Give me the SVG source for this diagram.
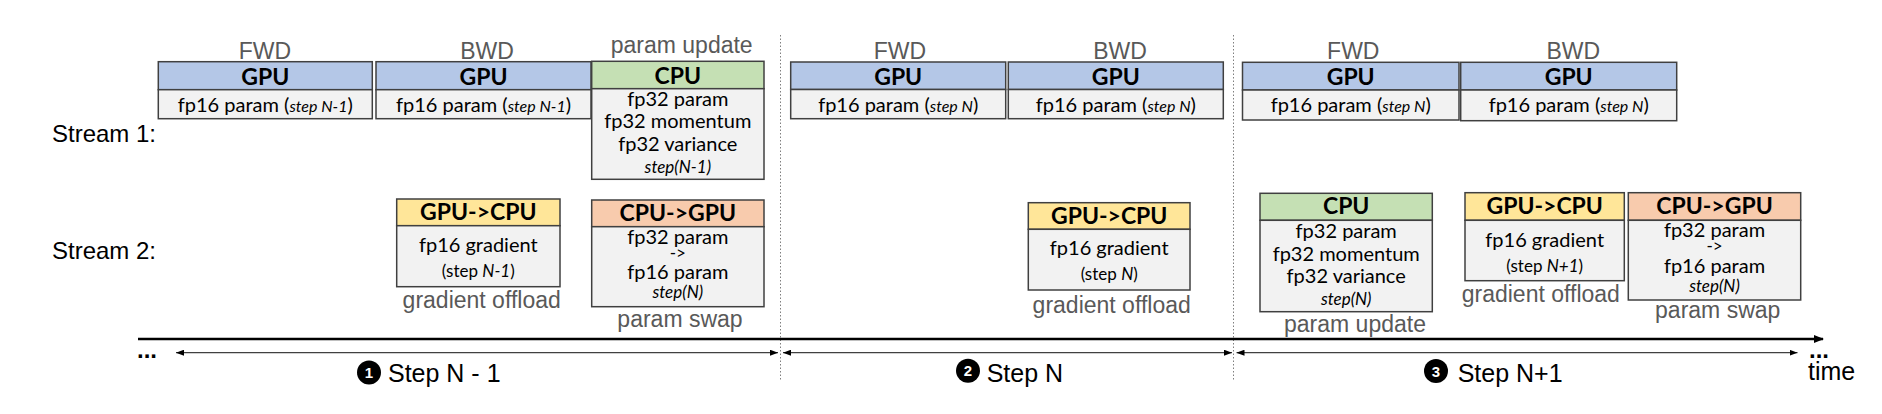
<svg xmlns="http://www.w3.org/2000/svg" width="1882" height="414" viewBox="0 0 1882 414">
<style>
.bx{stroke:#404040;stroke-width:1.5}
.gpu{fill:#b4c7e7}.cpu{fill:#c5e0b4}.g2c{fill:#ffe699}.c2g{fill:#f8cbad}.bd{fill:#f2f2f2}
.h{font-family:Lato,"Liberation Sans",sans-serif;font-weight:700;font-size:23px;text-anchor:middle;fill:#000}
.t{font-family:Lato,"Liberation Sans",sans-serif;font-size:20px;text-anchor:middle;fill:#000}
.s{font-family:Lato,"Liberation Sans",sans-serif;font-size:17px;text-anchor:middle;fill:#000}
.i{font-style:italic}
.lbl{font-family:"Liberation Sans",Arial,sans-serif;font-size:23px;fill:#595959;text-anchor:middle}
.ax{font-family:"Liberation Sans",Arial,sans-serif;font-size:24px;fill:#000}
.st{font-family:"Liberation Sans",Arial,sans-serif;font-size:25px;fill:#000}
.num{font-family:"Liberation Sans",Arial,sans-serif;font-size:15px;font-weight:700;fill:#fff;text-anchor:middle}
.dot{stroke:#7f7f7f;stroke-width:1;stroke-dasharray:1.5 2;fill:none}
.sa{stroke:#404040;stroke-width:1.2;fill:none}
</style>
<defs>
<marker id="ah" viewBox="0 0 8 6" refX="8" refY="3" markerWidth="8" markerHeight="6" markerUnits="userSpaceOnUse" orient="auto-start-reverse"><path d="M0,0L8,3L0,6z" fill="#000"/></marker>
<marker id="ta" viewBox="0 0 10 8" refX="9" refY="4" markerWidth="10" markerHeight="8" markerUnits="userSpaceOnUse" orient="auto"><path d="M0,0L10,4L0,8z" fill="#000"/></marker>
</defs>
<rect width="1882" height="414" fill="#fff"/>

<g id="row-labels">
<text class="ax" x="52" y="142">Stream 1:</text>
<text class="ax" x="52" y="259">Stream 2:</text>
</g>

<g id="connectors">
<line class="dot" x1="780.5" y1="35" x2="780.5" y2="381"/>
<line class="dot" x1="1233.5" y1="35" x2="1233.5" y2="381"/>
<line x1="138" y1="339" x2="1823" y2="339" stroke="#000" stroke-width="2.5" marker-end="url(#ta)"/>
<line class="sa" x1="176" y1="352.7" x2="778" y2="352.7" marker-start="url(#ah)" marker-end="url(#ah)"/>
<line class="sa" x1="783" y1="352.7" x2="1232" y2="352.7" marker-start="url(#ah)" marker-end="url(#ah)"/>
<line class="sa" x1="1236.5" y1="352.7" x2="1797.5" y2="352.7" marker-start="url(#ah)" marker-end="url(#ah)"/>
</g>

<!-- Stream 1 -->
<g id="s1-fwd-n1">
<text class="lbl" x="265" y="59">FWD</text>
<rect class="bx gpu" x="158.3" y="61.7" width="214" height="28"/>
<rect class="bx bd" x="158.3" y="89.7" width="214" height="29"/>
<text class="h" x="265.3" y="85">GPU</text>
<text class="t" x="265.3" y="112">fp16 param (<tspan class="i" font-size="16">step N-1</tspan>)</text>
</g>
<g id="s1-bwd-n1">
<text class="lbl" x="487" y="59">BWD</text>
<rect class="bx gpu" x="376" y="61.7" width="215" height="28"/>
<rect class="bx bd" x="376" y="89.7" width="215" height="29"/>
<text class="h" x="483.5" y="85">GPU</text>
<text class="t" x="483.5" y="112">fp16 param (<tspan class="i" font-size="16">step N-1</tspan>)</text>
</g>
<g id="s1-cpu-n1">
<text class="lbl" x="681.7" y="53">param update</text>
<rect class="bx cpu" x="591.7" y="61.3" width="172.3" height="27.4"/>
<rect class="bx bd" x="591.7" y="88.7" width="172.3" height="90.6"/>
<text class="h" x="677.8" y="84">CPU</text>
<text class="t" x="677.8" y="106">fp32 param</text>
<text class="t" x="677.8" y="128">fp32 momentum</text>
<text class="t" x="677.8" y="150.7">fp32 variance</text>
<text class="s i" x="677.8" y="173">step(N-1)</text>
</g>
<g id="s1-fwd-n">
<text class="lbl" x="900" y="59">FWD</text>
<rect class="bx gpu" x="790.7" y="62" width="215" height="27.5"/>
<rect class="bx bd" x="790.7" y="89.5" width="215" height="29.2"/>
<text class="h" x="898.2" y="85">GPU</text>
<text class="t" x="898.2" y="112">fp16 param (<tspan class="i" font-size="16">step N</tspan>)</text>
</g>
<g id="s1-bwd-n">
<text class="lbl" x="1120" y="59">BWD</text>
<rect class="bx gpu" x="1008.3" y="62" width="215" height="27.5"/>
<rect class="bx bd" x="1008.3" y="89.5" width="215" height="29.2"/>
<text class="h" x="1115.8" y="85">GPU</text>
<text class="t" x="1115.8" y="112">fp16 param (<tspan class="i" font-size="16">step N</tspan>)</text>
</g>
<g id="s1-fwd-n1p">
<text class="lbl" x="1353.3" y="59">FWD</text>
<rect class="bx gpu" x="1242.5" y="62.3" width="216.5" height="27.7"/>
<rect class="bx bd" x="1242.5" y="90" width="216.5" height="30"/>
<text class="h" x="1350.7" y="85">GPU</text>
<text class="t" x="1350.7" y="112">fp16 param (<tspan class="i" font-size="16">step N</tspan>)</text>
</g>
<g id="s1-bwd-n1p">
<text class="lbl" x="1573.3" y="59">BWD</text>
<rect class="bx gpu" x="1460.7" y="62.3" width="216" height="27.7"/>
<rect class="bx bd" x="1460.7" y="90" width="216" height="30.7"/>
<text class="h" x="1568.7" y="85">GPU</text>
<text class="t" x="1568.7" y="112">fp16 param (<tspan class="i" font-size="16">step N</tspan>)</text>
</g>

<!-- Stream 2 -->
<g id="s2-g2c-n1">
<rect class="bx g2c" x="396.7" y="199" width="163.3" height="26.7"/>
<rect class="bx bd" x="396.7" y="225.7" width="163.3" height="61"/>
<text class="h" x="478.3" y="220">GPU-&gt;CPU</text>
<text class="t" x="478.3" y="251.7">fp16 gradient</text>
<text class="s" x="478.3" y="276.7">(step <tspan class="i">N-1</tspan>)</text>
<text class="lbl" x="481.7" y="308">gradient offload</text>
</g>
<g id="s2-c2g-n">
<rect class="bx c2g" x="591.7" y="200" width="172.3" height="26.7"/>
<rect class="bx bd" x="591.7" y="226.7" width="172.3" height="80"/>
<text class="h" x="677.8" y="220.7">CPU-&gt;GPU</text>
<text class="t" x="677.8" y="244.3">fp32 param</text>
<text class="s" x="677.8" y="259.3">-&gt;</text>
<text class="t" x="677.8" y="279.3">fp16 param</text>
<text class="s i" x="677.8" y="298.3">step(N)</text>
<text class="lbl" x="680" y="326.7">param swap</text>
</g>
<g id="s2-g2c-n">
<rect class="bx g2c" x="1028.3" y="202.7" width="161.7" height="26.6"/>
<rect class="bx bd" x="1028.3" y="229.3" width="161.7" height="60.7"/>
<text class="h" x="1109.2" y="224">GPU-&gt;CPU</text>
<text class="t" x="1109.2" y="255">fp16 gradient</text>
<text class="s" x="1109.2" y="280">(step <tspan class="i">N</tspan>)</text>
<text class="lbl" x="1111.7" y="312.7">gradient offload</text>
</g>
<g id="s2-cpu-n">
<rect class="bx cpu" x="1260" y="193.3" width="172.3" height="27"/>
<rect class="bx bd" x="1260" y="220.3" width="172.3" height="91.4"/>
<text class="h" x="1346.2" y="214.3">CPU</text>
<text class="t" x="1346.2" y="238.3">fp32 param</text>
<text class="t" x="1346.2" y="261">fp32 momentum</text>
<text class="t" x="1346.2" y="282.7">fp32 variance</text>
<text class="s i" x="1346.2" y="305">step(N)</text>
<text class="lbl" x="1355" y="331.7">param update</text>
</g>
<g id="s2-g2c-n1p">
<rect class="bx g2c" x="1465" y="192.7" width="159.3" height="27.6"/>
<rect class="bx bd" x="1465" y="220.3" width="159.3" height="60.4"/>
<text class="h" x="1544.7" y="214.3">GPU-&gt;CPU</text>
<text class="t" x="1544.7" y="246.7">fp16 gradient</text>
<text class="s" x="1544.7" y="271.7">(step <tspan class="i">N+1</tspan>)</text>
<text class="lbl" x="1540.8" y="301.7">gradient offload</text>
</g>
<g id="s2-c2g-n1p">
<rect class="bx c2g" x="1628.3" y="192.7" width="172.4" height="27.6"/>
<rect class="bx bd" x="1628.3" y="220.3" width="172.4" height="79.7"/>
<text class="h" x="1714.5" y="214.3">CPU-&gt;GPU</text>
<text class="t" x="1714.5" y="237.3">fp32 param</text>
<text class="s" x="1714.5" y="251.7">-&gt;</text>
<text class="t" x="1714.5" y="273.3">fp16 param</text>
<text class="s i" x="1714.5" y="291.7">step(N)</text>
<text class="lbl" x="1717.7" y="318.3">param swap</text>
</g>

<!-- axis labels -->
<g id="axis-labels">
<text class="ax" x="137" y="358" font-weight="700">...</text>
<g id="step1">
<circle cx="369" cy="372.5" r="12" fill="#000"/>
<text class="num" x="369" y="378">1</text>
<text class="st" x="388" y="381.7">Step N - 1</text>
</g>
<g id="step2">
<circle cx="968" cy="370.7" r="12" fill="#000"/>
<text class="num" x="968" y="376">2</text>
<text class="st" x="986.7" y="381.7">Step N</text>
</g>
<g id="step3">
<circle cx="1436" cy="371" r="12" fill="#000"/>
<text class="num" x="1436" y="376.5">3</text>
<text class="st" x="1457.7" y="381.7">Step N+1</text>
</g>
<text class="ax" x="1809" y="358" font-weight="700">...</text>
<text class="st" x="1808" y="380">time</text>
</g>
</svg>
